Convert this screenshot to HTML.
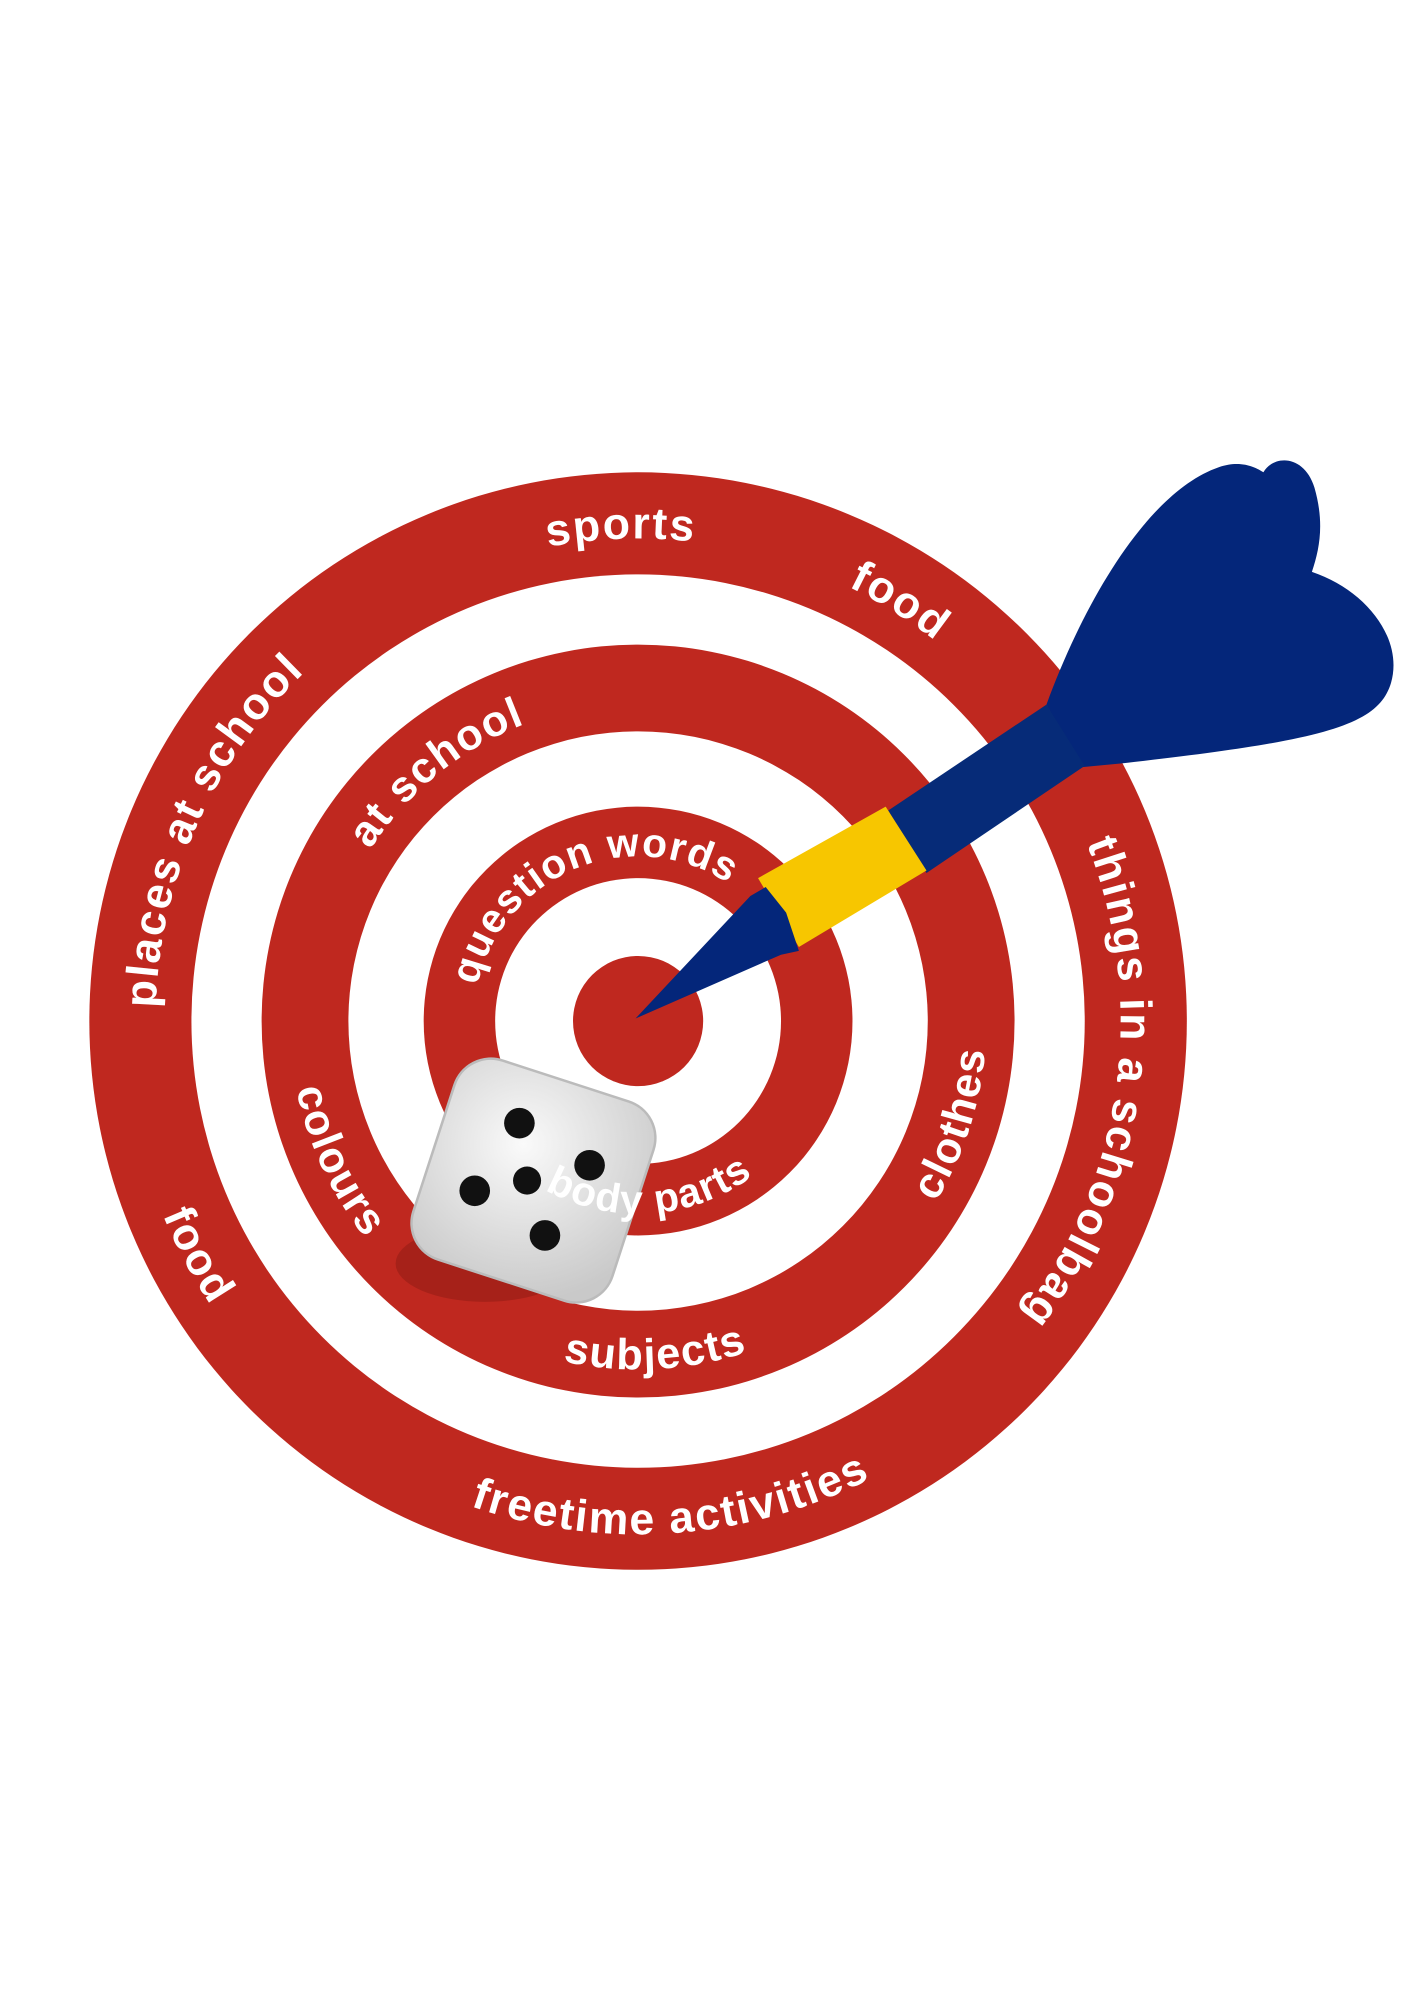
<!DOCTYPE html>
<html><head><meta charset="utf-8"><style>html,body{margin:0;padding:0;background:#fff}svg{display:block}</style></head>
<body>
<svg width="1414" height="2000" viewBox="0 0 1108 1567" xmlns="http://www.w3.org/2000/svg">
<defs>
<path id="cwO" d="M500 422 A378 378 0 1 1 500 1178 A378 378 0 1 1 500 422"/>
<path id="ccwO" d="M500 398 A402 402 0 1 0 500 1202 A402 402 0 1 0 500 398"/>
<path id="cwM" d="M500 551 A249 249 0 1 1 500 1049 A249 249 0 1 1 500 551"/>
<path id="ccwM" d="M500 527 A273 273 0 1 0 500 1073 A273 273 0 1 0 500 527"/>
<path id="cwI" d="M500 671 A129 129 0 1 1 500 929 A129 129 0 1 1 500 671"/>
<path id="ccwI" d="M500 649 A151 151 0 1 0 500 951 A151 151 0 1 0 500 649"/>
<radialGradient id="dg" cx="40%" cy="35%" r="75%"><stop offset="0" stop-color="#fafafa"/><stop offset="1" stop-color="#c9c9c9"/></radialGradient>
</defs>
<rect width="1108" height="1567" fill="#fff"/>
<circle cx="500" cy="800" r="430" fill="#bf281f"/>
<circle cx="500" cy="800" r="350" fill="#fff"/>
<circle cx="500" cy="800" r="295" fill="#bf281f"/>
<circle cx="500" cy="800" r="227" fill="#fff"/>
<circle cx="500" cy="800" r="168" fill="#bf281f"/>
<circle cx="500" cy="800" r="112" fill="#fff"/>
<circle cx="500" cy="800" r="51" fill="#bf281f"/>

<g font-family="Liberation Sans, DejaVu Sans, sans-serif" font-weight="bold" fill="#fff" text-anchor="middle">
<g font-size="35" letter-spacing="1.5">
<text transform="rotate(-92 500 800)"><textPath href="#cwO" startOffset="25%">sports</textPath></text>
<text transform="rotate(-58 500 800)"><textPath href="#cwO" startOffset="25%">food</textPath></text>
<text transform="rotate(-156 500 800)"><textPath href="#cwO" startOffset="25%">places at school</textPath></text>
<text transform="rotate(8 500 800)"><textPath href="#cwO" startOffset="25%">things in a schoolbag</textPath></text>
<text transform="rotate(-28 500 800)"><textPath href="#ccwO" startOffset="25%">food</textPath></text>
<text transform="rotate(-94 500 800)"><textPath href="#ccwO" startOffset="25%">freetime activities</textPath></text>
</g>
<g font-size="34" letter-spacing="1.2">
<text transform="rotate(-129 500 800)"><textPath href="#cwM" startOffset="25%">at school</textPath></text>
<text transform="rotate(-25 500 800)"><textPath href="#ccwM" startOffset="25%">colours</textPath></text>
<text transform="rotate(-93 500 800)"><textPath href="#ccwM" startOffset="25%">subjects</textPath></text>
<text transform="rotate(-162 500 800)"><textPath href="#ccwM" startOffset="25%">clothes</textPath></text>
</g>
<g font-size="32" letter-spacing="1">
<text transform="rotate(-112 500 800)"><textPath href="#cwI" startOffset="25%">question words</textPath></text>
</g>
</g>

<!-- dice -->
<ellipse cx="380" cy="990" rx="70" ry="30" fill="#8e1a14" opacity="0.5"/>
<g transform="translate(418 925) rotate(18)">
<rect x="-82" y="-82" width="164" height="164" rx="30" fill="url(#dg)" stroke="#bbb" stroke-width="2"/>
</g>
<g fill="#111">
<circle cx="407" cy="880" r="12"/>
<circle cx="462" cy="913" r="12"/>
<circle cx="372" cy="933" r="12"/>
<circle cx="413" cy="925" r="11"/>
<circle cx="427" cy="968" r="12"/>
</g>
<g font-family="Liberation Sans, DejaVu Sans, sans-serif" font-weight="bold" fill="#fff" text-anchor="middle" font-size="32" letter-spacing="1">
<text transform="rotate(-94 500 800)"><textPath href="#ccwI" startOffset="25%">body parts</textPath></text>
</g>

<!-- dart -->
<path d="M820 552 C850 470 900 385 955 366 C972 360 984 366 990 370 C998 356 1022 356 1030 382 C1038 410 1034 430 1028 448 C1070 462 1100 500 1090 535 C1080 568 1040 580 880 598 L848 601 Z" fill="#04267a"/>
<polygon points="696,635 820,552 850,600 726,684" fill="#062b78"/>
<polygon points="594,688 694,632 726,682 626,742" fill="#f7c600"/>
<polygon points="498,798 588,702 600,695 616,715 626,745 612,748" fill="#04267a"/>
</svg>
</body></html>
